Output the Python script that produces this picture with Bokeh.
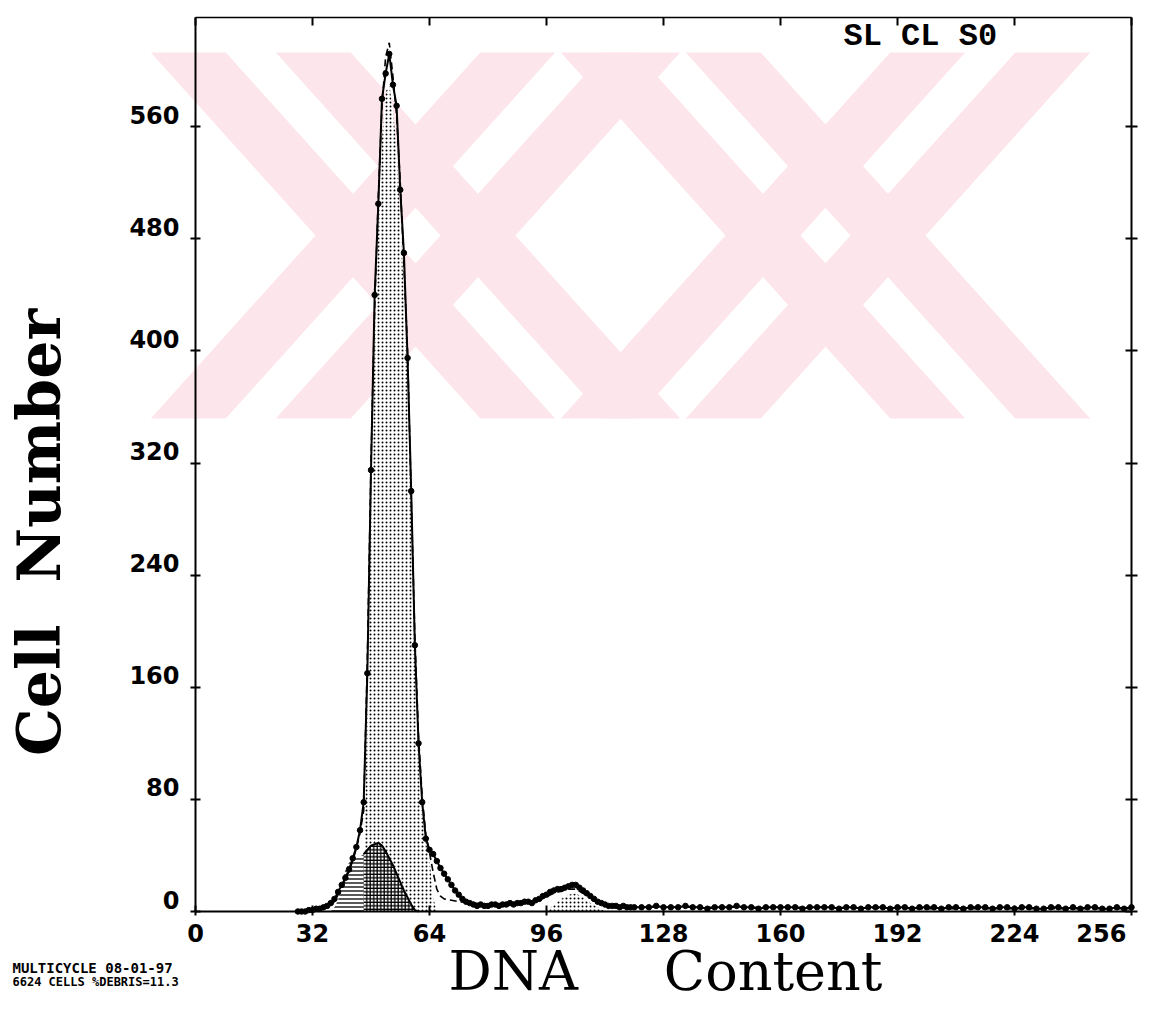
import math
from bokeh.plotting import figure
from bokeh.models import Range1d, LinearAxis, FixedTicker, Label
from bokeh.embed import file_html
from bokeh.resources import INLINE

# ---------------- data ----------------
X_TICKS = [0, 32, 64, 96, 128, 160, 192, 224, 256]
Y_TICKS = [0, 80, 160, 240, 320, 400, 480, 560]
X_MAX, Y_MAX = 256, 638

# raw histogram (cell counts per channel)
RAW_X = list(range(28, 121)) + list(range(122, 257, 2))
RAW_Y = [0, 0, 0, 1, 1, 2, 2, 3, 4, 6,
         9, 14, 19, 24, 30, 38, 46, 58, 78, 170,
         315, 440, 505, 580, 598, 612, 590, 575, 515, 470,
         395, 300, 190, 120, 78, 52, 44, 41, 36, 31,
         27, 23, 19, 15, 12, 9, 7, 6, 5, 4,
         5, 4, 4, 5, 5, 4, 5, 5, 6, 5,
         6, 6, 7, 7, 6, 8, 9, 11, 12, 14,
         15, 16, 16, 17, 18, 19, 19, 17, 15, 13,
         11, 9, 7, 6, 5, 4, 4, 4, 3, 4,
         3, 3, 3,
         3, 3, 4, 3, 3, 3, 4, 3, 3, 2,
         3, 3, 3, 4, 3, 3, 2, 3, 3, 3,
         3, 3, 2, 3, 3, 3, 3, 2, 3, 3,
         2, 3, 3, 3, 2, 3, 3, 2, 3, 3,
         3, 2, 3, 3, 2, 3, 3, 3, 2, 3,
         3, 2, 3, 3, 2, 2, 3, 3, 2, 3,
         2, 3, 3, 2, 2, 3, 2, 3]

# fitted total model (dashed)
FIT_X = [28, 30, 32, 34, 36, 38, 40, 41, 42, 43, 44, 45, 46, 47, 48, 49, 50, 51, 52, 53,
         54, 55, 56, 57, 58, 59, 60, 61, 62, 63, 64, 65, 66, 67, 68, 70, 72, 76, 80, 88,
         94, 98, 102, 104, 106, 110, 114, 120, 140, 170, 200, 230, 256]
FIT_Y = [0, 0, 0, 1, 3, 7, 17, 23, 29, 36, 45, 56, 72, 180, 320, 430, 510, 575, 610, 620,
         596, 568, 520, 462, 400, 295, 195, 125, 82, 55, 42, 28, 16, 11, 9, 8, 7, 6, 5, 6,
         8, 13, 16, 16, 13, 7, 4, 3, 3, 3, 2, 2, 2]

# G0/G1 component (stippled)
G1_X = list(range(44, 67))
G1_Y = [0, 8, 30, 150, 295, 405, 490, 552, 585, 590, 572, 545, 497, 440, 378, 275,
        178, 110, 70, 50, 38, 10, 0]

# hatched sub-population component
DEB_X = list(range(37, 62))
DEB_Y = [0, 3, 8, 20, 30, 35, 37, 38, 39, 41, 44, 47, 48, 49, 47, 43, 38, 33, 27, 21,
         15, 10, 5, 1, 0]

# G2/M component (stippled)
G2_X = [96, 98, 100, 102, 104, 106, 108, 110, 112]
G2_Y = [0, 5, 9, 12, 13, 10, 6, 3, 0]

NB = "\u00a0"

# ---------------- layout (frame = whole canvas, axes fixed inside) ----------------
W, H = 1151, 1010
FL, FR, FT, FB = 195, 1131, 17, 911          # pixel box of the data area
sx = (FR - FL) / X_MAX
sy = (FB - FT) / Y_MAX
x_range = Range1d(-FL / sx, X_MAX + (W - FR) / sx)
y_range = Range1d(-(H - FB) / sy, Y_MAX + FT / sy)

def px_x(px):
    return (px - FL) / sx

def px_y(py):
    return (FB - py) / sy

p = figure(width=W, height=H, x_range=x_range, y_range=y_range,
           output_backend="svg", toolbar_location=None,
           x_axis_location=None, y_axis_location=None,
           background_fill_color="white", border_fill_color="white")
p.min_border = 0
p.grid.visible = False
p.outline_line_color = None
shift = 12 / sy
p.extra_y_ranges = {"lab": Range1d(y_range.start - shift, y_range.end - shift)}

# ---------------- background watermark (two pale double-stroke X shapes) ----------------
WM_TOP, WM_BOT = 52, 418          # vertical extent, px
WM_CENTERS = [415, 825]           # x centres of the two X shapes, px
WM_SLOPE = 0.9                    # horizontal shift per px of height
WM_STROKES = [(-100, -25), (25, 100)]   # the two parallel strokes of each arm, px
wm_xs, wm_ys = [], []
half = (WM_BOT - WM_TOP) / 2
for cx in WM_CENTERS:
    for sgn in (1, -1):
        for a, b in WM_STROKES:
            top_c = cx - sgn * WM_SLOPE * half
            bot_c = cx + sgn * WM_SLOPE * half
            wm_xs.append([px_x(top_c + a), px_x(top_c + b), px_x(bot_c + b), px_x(bot_c + a)])
            wm_ys.append([px_y(WM_TOP), px_y(WM_TOP), px_y(WM_BOT), px_y(WM_BOT)])
p.patches(wm_xs, wm_ys, fill_color="#fde6eb", line_color=None)

# components
p.varea(x=G1_X, y1=0, y2=G1_Y, fill_color="white", hatch_pattern="dot",
        hatch_color="black", hatch_scale=4, hatch_weight=1.4)
n_split = DEB_X.index(47) + 1
p.varea(x=DEB_X[:n_split], y1=0, y2=DEB_Y[:n_split], fill_color="white",
        hatch_pattern="horizontal_line", hatch_color="black", hatch_scale=4, hatch_weight=1.3)
p.varea(x=DEB_X[n_split - 2:], y1=0, y2=DEB_Y[n_split - 2:], fill_color="white",
        hatch_pattern="cross", hatch_color="black", hatch_scale=3.5, hatch_weight=1.3)
p.line(DEB_X[n_split - 2:], DEB_Y[n_split - 2:], line_color="black", line_width=2)
p.varea(x=G2_X, y1=0, y2=G2_Y, fill_color="white", hatch_pattern="dot",
        hatch_color="black", hatch_scale=4, hatch_weight=1.2)

# fit and raw data
p.line(FIT_X, FIT_Y, line_color="black", line_width=1.6, line_dash="7 4")
p.line(RAW_X, RAW_Y, line_color="black", line_width=2)
p.scatter(RAW_X, RAW_Y, size=5.5, color="black")

# axes
tick_font = dict(major_label_text_font="DejaVu Sans", major_label_text_font_style="bold",
                 major_label_text_font_size="24px", major_label_text_color="black")
no_labels = dict(major_label_text_font_size="0px", major_label_text_color=None,
                 major_label_standoff=0)

xb = LinearAxis(fixed_location=0, bounds=(0, X_MAX), ticker=FixedTicker(ticks=X_TICKS),
                major_tick_in=6, major_tick_out=4, minor_tick_line_color=None,
                axis_line_width=2, major_tick_line_width=2, major_label_standoff=4,
                major_label_overrides={256: "256" + NB * 3}, **tick_font)
p.add_layout(xb, "below")

xt = LinearAxis(fixed_location=Y_MAX, bounds=(0, X_MAX), ticker=FixedTicker(ticks=X_TICKS),
                major_tick_in=8, major_tick_out=0, minor_tick_line_color=None,
                axis_line_width=1.5, major_tick_line_width=2, **no_labels)
p.add_layout(xt, "above")

yl = LinearAxis(fixed_location=0, bounds=(0, Y_MAX), ticker=FixedTicker(ticks=Y_TICKS),
                major_tick_in=5, major_tick_out=5, minor_tick_line_color=None,
                axis_line_width=2, major_tick_line_width=2, **no_labels)
p.add_layout(yl, "left")

ylab = LinearAxis(fixed_location=0, y_range_name="lab", ticker=FixedTicker(ticks=Y_TICKS),
                  axis_line_color=None, major_tick_line_color=None, major_tick_in=0,
                  major_tick_out=0, minor_tick_line_color=None, major_label_standoff=16,
                  **tick_font)
p.add_layout(ylab, "left")

yr = LinearAxis(fixed_location=X_MAX, bounds=(0, Y_MAX), ticker=FixedTicker(ticks=Y_TICKS),
                major_tick_in=6, major_tick_out=6, minor_tick_line_color=None,
                axis_line_width=2, major_tick_line_width=2, **no_labels)
p.add_layout(yr, "right")

# texts
p.add_layout(Label(x=px_x(665), y=px_y(971), text="DNA" + NB * 5 + "Content",
                   text_font="DejaVu Serif", text_font_size="54px", text_color="black",
                   text_align="center", text_baseline="alphabetic"))
p.add_layout(Label(x=px_x(38), y=px_y(532), text="Cell" + NB * 2 + "Number",
                   angle=math.pi / 2, text_font="DejaVu Serif", text_font_style="bold",
                   text_font_size="60px", text_color="black",
                   text_align="center", text_baseline="alphabetic"))
p.add_layout(Label(x=px_x(843), y=px_y(36), text="SL CL S0", text_font="Liberation Mono",
                   text_font_style="bold", text_font_size="32px", text_color="black",
                   text_baseline="alphabetic"))
p.add_layout(Label(x=px_x(12), y=px_y(967), text="MULTICYCLE 08-01-97",
                   text_font="DejaVu Sans Mono", text_font_style="bold",
                   text_font_size="14px", text_color="black", text_baseline="alphabetic"))
p.add_layout(Label(x=px_x(12), y=px_y(981), text="6624 CELLS %DEBRIS=11.3",
                   text_font="DejaVu Sans Mono", text_font_style="bold",
                   text_font_size="12px", text_color="black", text_baseline="alphabetic"))

open("out.html", "w").write(file_html(p, INLINE))
